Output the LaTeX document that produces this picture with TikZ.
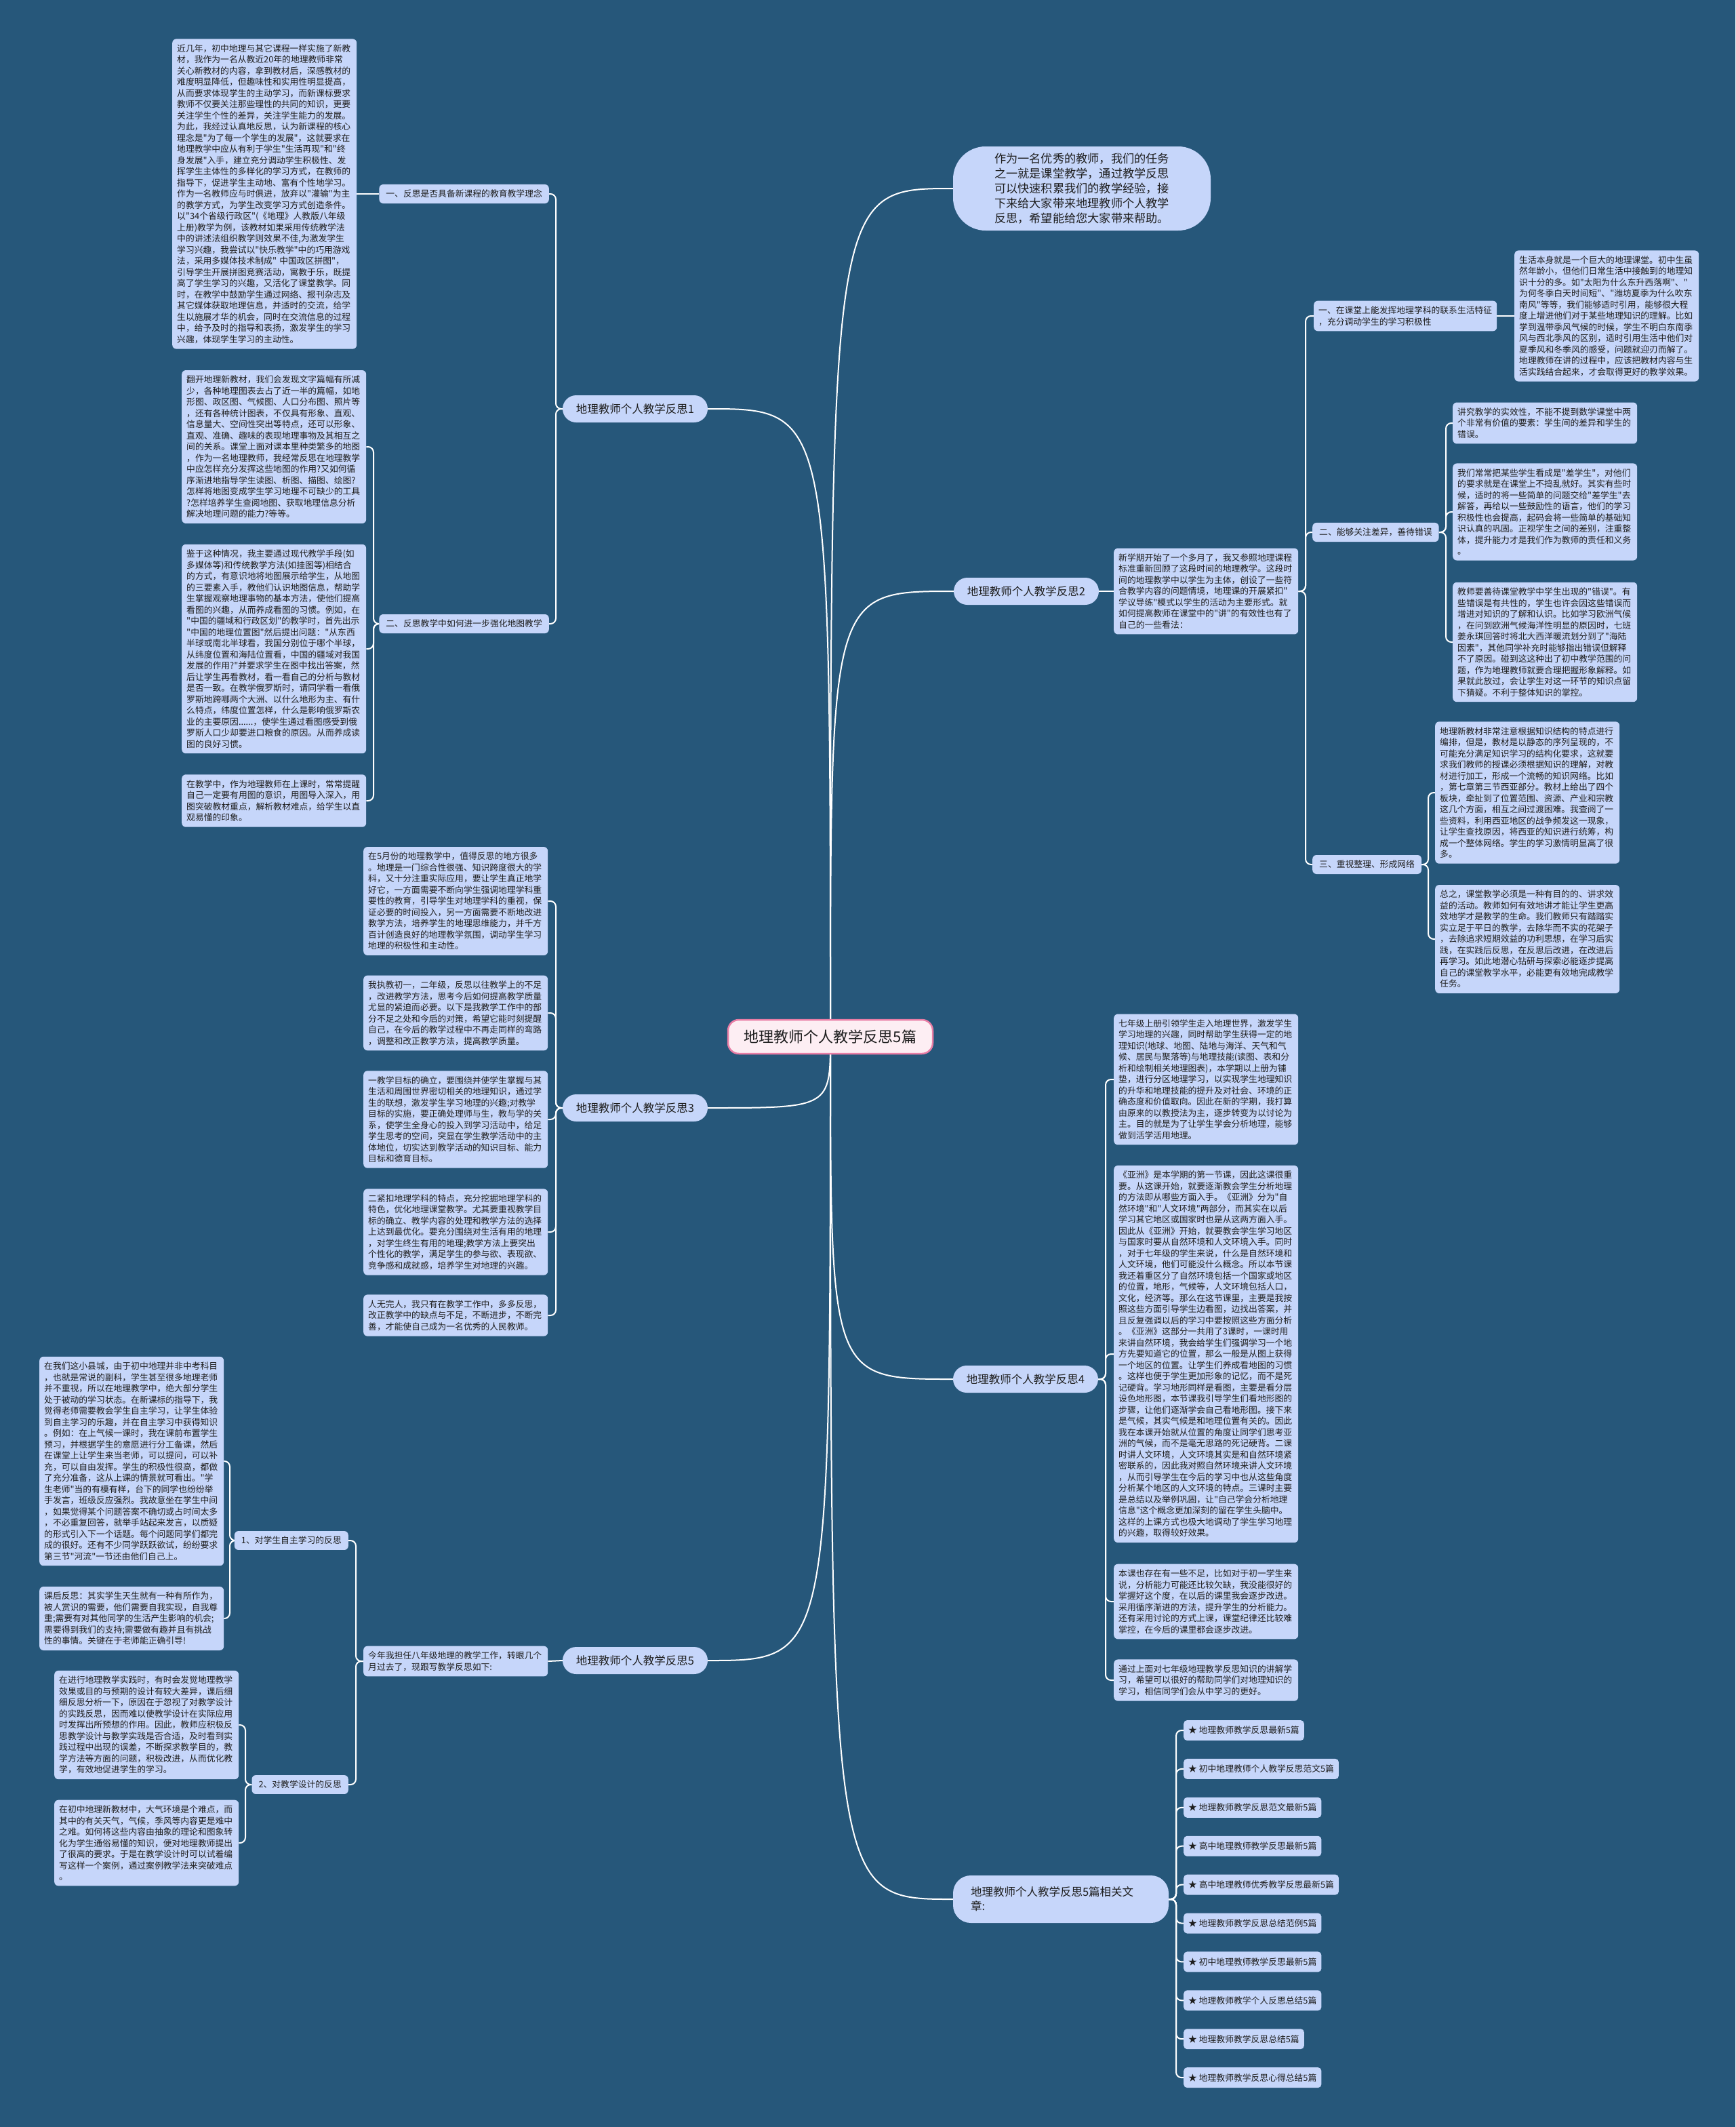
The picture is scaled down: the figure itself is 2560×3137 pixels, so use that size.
\documentclass[tikz,border=0pt]{standalone}
\usepackage{fontspec}
\newfontfamily\cjk{Noto Sans CJK SC}
\definecolor{bgc}{RGB}{38,87,122}
\definecolor{boxc}{RGB}{198,214,250}
\definecolor{txtc}{RGB}{30,30,30}
\definecolor{cfill}{RGB}{253,238,243}
\definecolor{cbord}{RGB}{232,125,165}
\newcommand\blkfont{\cjk\fontsize{12.8pt}{16.5pt}\selectfont}
\newcommand\lonefont{\cjk\fontsize{16.5pt}{21pt}\selectfont}
\newcommand\topfont{\cjk\fontsize{17.2pt}{22pt}\selectfont}
\newcommand\cenfont{\cjk\fontsize{22pt}{26pt}\selectfont}
\pgfdeclarelayer{bgl}
\pgfdeclarelayer{lines}
\pgfsetlayers{bgl,lines,main}
\begin{document}
\begin{tikzpicture}[x=1pt,y=-1pt,
 blk/.style={fill=boxc, rounded corners=6pt, text width=258pt, align=left, inner xsep=7pt, inner ysep=8pt, font=\blkfont, text=txtc, anchor=west},
 lab/.style={fill=boxc, rounded corners=6pt, inner xsep=10pt, inner ysep=8pt, font=\blkfont, text=txtc},
 lone/.style={fill=boxc, rounded corners=20pt, minimum width=214pt, minimum height=40pt, inner sep=4pt, font=\lonefont, text=txtc},
 itm/.style={fill=boxc, rounded corners=5pt, inner xsep=7pt, inner ysep=9pt, font=\blkfont, text=txtc, anchor=west},
 conn/.style={draw=white, line width=2pt, rounded corners=8pt},
 curv/.style={draw=white, line width=2pt},
]
\useasboundingbox (0,0) rectangle (2560,3137);
\begin{pgfonlayer}{bgl}
\fill[bgc] (0,0) rectangle (2560,3137);
\end{pgfonlayer}

% ---------- centre and level 1 ----------
\node[fill=cfill, draw=cbord, line width=2.5pt, rounded corners=16pt, minimum width=302pt, minimum height=50pt, font=\cenfont, text=txtc] (c) at (1225,1529) {地理教师个人教学反思5篇};

\node[fill=boxc, rounded corners=48pt, minimum width=380pt, minimum height=124pt, align=center, font=\topfont, text=txtc] (top) at (1596,278) {作为一名优秀的教师，我们的任务\\之一就是课堂教学，通过教学反思\\可以快速积累我们的教学经验，接\\下来给大家带来地理教师个人教学\\反思，希望能给您大家带来帮助。};

\node[lone] (n1) at (937,603) {地理教师个人教学反思1};
\node[lone] (n2) at (1514,872) {地理教师个人教学反思2};
\node[lone] (n3) at (937,1634) {地理教师个人教学反思3};
\node[lone] (n4) at (1513,2034) {地理教师个人教学反思4};
\node[lone] (n5) at (937,2449) {地理教师个人教学反思5};
\node[lone, minimum width=318pt, minimum height=70pt, text width=266pt, align=left, rounded corners=26pt] (n6) at (1565,2801) {地理教师个人教学反思5篇相关文\\章:};

% ---------- reflection 1 ----------
\node[lab, anchor=east] (l11) at (810,286) {一、反思是否具备新课程的教育教学理念};
\node[lab, anchor=east] (l12) at (810,920) {二、反思教学中如何进一步强化地图教学};

\node[blk] (b1) at (254,286) {近几年，初中地理与其它课程一样实施了新教\\材，我作为一名从教近20年的地理教师非常\\关心新教材的内容，拿到教材后，深感教材的\\难度明显降低，但趣味性和实用性明显提高，\\从而要求体现学生的主动学习，而新课标要求\\教师不仅要关注那些理性的共同的知识，更要\\关注学生个性的差异，关注学生能力的发展。\\为此，我经过认真地反思，认为新课程的核心\\理念是"为了每一个学生的发展"，这就要求在\\地理教学中应从有利于学生"生活再现"和"终\\身发展"入手，建立充分调动学生积极性、发\\挥学生主体性的多样化的学习方式，在教师的\\指导下，促进学生主动地、富有个性地学习。\\作为一名教师应与时俱进，放弃以"灌输"为主\\的教学方式，为学生改变学习方式创造条件。\\以"34个省级行政区"(《地理》人教版八年级\\上册)教学为例，该教材如果采用传统教学法\\中的讲述法组织教学则效果不佳,为激发学生\\学习兴趣，我尝试以"快乐教学"中的巧用游戏\\法，采用多媒体技术制成"~中国政区拼图"，\\引导学生开展拼图竞赛活动，寓教于乐，既提\\高了学生学习的兴趣，又活化了课堂教学。同\\时，在教学中鼓励学生通过网络、报刊杂志及\\其它媒体获取地理信息，并适时的交流，给学\\生以施展才华的机会，同时在交流信息的过程\\中，给予及时的指导和表扬，激发学生的学习\\兴趣，体现学生学习的主动性。};

\node[blk] (b2) at (268,659) {翻开地理新教材，我们会发现文字篇幅有所减\\少，各种地理图表去占了近一半的篇幅，如地\\形图、政区图、气候图、人口分布图、照片等\\，还有各种统计图表，不仅具有形象、直观、\\信息量大、空间性突出等特点，还可以形象、\\直观、准确、趣味的表现地理事物及其相互之\\间的关系。课堂上面对课本里种类繁多的地图\\，作为一名地理教师，我经常反思在地理教学\\中应怎样充分发挥这些地图的作用?又如何循\\序渐进地指导学生读图、析图、描图、绘图?\\怎样将地图变成学生学习地理不可缺少的工具\\?怎样培养学生查阅地图、获取地理信息分析\\解决地理问题的能力?等等。};

\node[blk] (b3) at (268,957) {鉴于这种情况，我主要通过现代教学手段(如\\多媒体等)和传统教学方法(如挂图等)相结合\\的方式，有意识地将地图展示给学生，从地图\\的三要素入手，教他们认识地图信息，帮助学\\生掌握观察地理事物的基本方法，使他们提高\\看图的兴趣，从而养成看图的习惯。例如，在\\"中国的疆域和行政区划"的教学时，首先出示\\"中国的地理位置图"然后提出问题："从东西\\半球或南北半球看，我国分别位于哪个半球，\\从纬度位置和海陆位置看，中国的疆域对我国\\发展的作用?"并要求学生在图中找出答案，然\\后让学生再看教材，看一看自己的分析与教材\\是否一致。在教学俄罗斯时，请同学看一看俄\\罗斯地跨哪两个大洲、以什么地形为主、有什\\么特点，纬度位置怎样，什么是影响俄罗斯农\\业的主要原因......，使学生通过看图感受到俄\\罗斯人口少却要进口粮食的原因。从而养成读\\图的良好习惯。};

\node[blk] (b4) at (268,1181) {在教学中，作为地理教师在上课时，常常提醒\\自己一定要有用图的意识，用图导入深入，用\\图突破教材重点，解析教材难点，给学生以直\\观易懂的印象。};

% ---------- reflection 3 ----------
\node[blk] (c1) at (536,1329) {在5月份的地理教学中，值得反思的地方很多\\。地理是一门综合性很强、知识跨度很大的学\\科，又十分注重实际应用，要让学生真正地学\\好它，一方面需要不断向学生强调地理学科重\\要性的教育，引导学生对地理学科的重视，保\\证必要的时间投入，另一方面需要不断地改进\\教学方法，培养学生的地理思维能力，并千方\\百计创造良好的地理教学氛围，调动学生学习\\地理的积极性和主动性。};

\node[blk] (c2) at (536,1494) {我执教初一，二年级，反思以往教学上的不足\\，改进教学方法，思考今后如何提高教学质量\\尤显的紧迫而必要。以下是我教学工作中的部\\分不足之处和今后的对策，希望它能时刻提醒\\自己，在今后的教学过程中不再走同样的弯路\\，调整和改正教学方法，提高教学质量。};

\node[blk] (c3) at (536,1651) {一教学目标的确立，要围绕并使学生掌握与其\\生活和周围世界密切相关的地理知识，通过学\\生的联想，激发学生学习地理的兴趣;对教学\\目标的实施，要正确处理师与生，教与学的关\\系，使学生全身心的投入到学习活动中，给足\\学生思考的空间，突显在学生教学活动中的主\\体地位，切实达到教学活动的知识目标、能力\\目标和德育目标。};

\node[blk] (c4) at (536,1817) {二紧扣地理学科的特点，充分挖掘地理学科的\\特色，优化地理课堂教学。尤其要重视教学目\\标的确立、教学内容的处理和教学方法的选择\\上达到最优化。要充分围绕对生活有用的地理\\，对学生终生有用的地理;教学方法上要突出\\个性化的教学，满足学生的参与欲、表现欲、\\竞争感和成就感，培养学生对地理的兴趣。};

\node[blk] (c5) at (536,1940) {人无完人，我只有在教学工作中，多多反思，\\改正教学中的缺点与不足，不断进步，不断完\\善，才能使自己成为一名优秀的人民教师。};

% ---------- reflection 5 ----------
\node[blk] (i5) at (536,2450) {今年我担任八年级地理的教学工作，转眼几个\\月过去了，现跟写教学反思如下:};
\node[lab, anchor=east] (l51) at (514,2272) {1、对学生自主学习的反思};
\node[lab, anchor=east] (l52) at (514,2632) {2、对教学设计的反思};

\node[blk] (d1) at (58,2155) {在我们这小县城，由于初中地理并非中考科目\\，也就是常说的副科，学生甚至很多地理老师\\并不重视，所以在地理教学中，绝大部分学生\\处于被动的学习状态。在新课标的指导下，我\\觉得老师需要教会学生自主学习，让学生体验\\到自主学习的乐趣，并在自主学习中获得知识\\。例如：在上气候一课时，我在课前布置学生\\预习，并根据学生的意愿进行分工备课，然后\\在课堂上让学生来当老师，可以提问，可以补\\充，可以自由发挥。学生的积极性很高，都做\\了充分准备，这从上课的情景就可看出。"学\\生老师"当的有模有样，台下的同学也纷纷举\\手发言，班级反应强烈。我故意坐在学生中间\\，如果觉得某个问题答案不确切或占时间太多\\，不必重复回答，就举手站起来发言，以质疑\\的形式引入下一个话题。每个问题同学们都完\\成的很好。还有不少同学跃跃欲试，纷纷要求\\第三节"河流"一节还由他们自己上。};

\node[blk] (d2) at (58,2387) {课后反思：其实学生天生就有一种有所作为，\\被人赏识的需要，他们需要自我实现，自我尊\\重;需要有对其他同学的生活产生影响的机会;\\需要得到我们的支持;需要做有趣并且有挑战\\性的事情。关键在于老师能正确引导!};

\node[blk] (d3) at (80,2544) {在进行地理教学实践时，有时会发觉地理教学\\效果或目的与预期的设计有较大差异，课后细\\细反思分析一下，原因在于忽视了对教学设计\\的实践反思，因而难以使教学设计在实际应用\\时发挥出所预想的作用。因此，教师应积极反\\思教学设计与教学实践是否合适，及时看到实\\践过程中出现的误差，不断探求教学目的，教\\学方法等方面的问题，积极改进，从而优化教\\学，有效地促进学生的学习。};

\node[blk] (d4) at (80,2718) {在初中地理新教材中，大气环境是个难点，而\\其中的有关天气，气候，季风等内容更是难中\\之难。如何将这些内容由抽象的理论和图象转\\化为学生通俗易懂的知识，便对地理教师提出\\了很高的要求。于是在教学设计时可以试着编\\写这样一个案例，通过案例教学法来突破难点\\。};

% ---------- reflection 2 ----------
\node[blk] (i2) at (1643,872) {新学期开始了一个多月了，我又参照地理课程\\标准重新回顾了这段时间的地理教学。这段时\\间的地理教学中以学生为主体，创设了一些符\\合教学内容的问题情境，地理课的开展紧扣"\\学议导练"模式以学生的活动为主要形式。就\\如何提高教师在课堂中的"讲"的有效性也有了\\自己的一些看法：};

\node[lab, anchor=west, text width=256pt, align=left, inner xsep=7pt] (r1) at (1938,466) {一、在课堂上能发挥地理学科的联系生活特征\\，充分调动学生的学习积极性};
\node[lab, anchor=west] (r2) at (1936,785) {二、能够关注差异，善待错误};
\node[lab, anchor=west] (r3) at (1936,1275) {三、重视整理、形成网络};

\node[blk] (q1) at (2234,466) {生活本身就是一个巨大的地理课堂。初中生虽\\然年龄小，但他们日常生活中接触到的地理知\\识十分的多。如"太阳为什么东升西落啊"、"\\为何冬季白天时间短"、"潍坊夏季为什么吹东\\南风"等等，我们能够适时引用，能够很大程\\度上增进他们对于某些地理知识的理解。比如\\学到温带季风气候的时候，学生不明白东南季\\风与西北季风的区别，适时引用生活中他们对\\夏季风和冬季风的感受，问题就迎刃而解了。\\地理教师在讲的过程中，应该把教材内容与生\\活实践结合起来，才会取得更好的教学效果。};

\node[blk] (q2) at (2143,624) {讲究教学的实效性，不能不提到数学课堂中两\\个非常有价值的要素：学生间的差异和学生的\\错误。};

\node[blk] (q3) at (2143,755) {我们常常把某些学生看成是"差学生"，对他们\\的要求就是在课堂上不捣乱就好。其实有些时\\候，适时的将一些简单的问题交给"差学生"去\\解答，再给以一些鼓励性的语言，他们的学习\\积极性也会提高，起码会将一些简单的基础知\\识认真的巩固。正视学生之间的差别，注重整\\体，提升能力才是我们作为教师的责任和义务\\。};

\node[blk] (q4) at (2143,947) {教师要善待课堂教学中学生出现的"错误"。有\\些错误是有共性的，学生也许会因这些错误而\\增进对知识的了解和认识。比如学习欧洲气候\\，在问到欧洲气候海洋性明显的原因时，七班\\姜永琪回答时将北大西洋暖流划分到了"海陆\\因素"，其他同学补充时能够指出错误但解释\\不了原因。碰到这这种出了初中教学范围的问\\题，作为地理教师就要合理把握形象解释。如\\果就此放过，会让学生对这一环节的知识点留\\下猜疑。不利于整体知识的掌控。};

\node[blk] (q5) at (2117,1169) {地理新教材非常注意根据知识结构的特点进行\\编排，但是，教材是以静态的序列呈现的，不\\可能充分满足知识学习的结构化要求，这就要\\求我们教师的授课必须根据知识的理解，对教\\材进行加工，形成一个流畅的知识网络。比如\\，第七章第三节西亚部分。教材上给出了四个\\板块，牵扯到了位置范围、资源、产业和宗教\\这几个方面，相互之间过渡困难。我查阅了一\\些资料，利用西亚地区的战争频发这一现象，\\让学生查找原因，将西亚的知识进行统筹，构\\成一个整体网络。学生的学习激情明显高了很\\多。};

\node[blk] (q6) at (2117,1385) {总之，课堂教学必须是一种有目的的、讲求效\\益的活动。教师如何有效地讲才能让学生更高\\效地学才是教学的生命。我们教师只有踏踏实\\实立足于平日的教学，去除华而不实的花架子\\，去除追求短期效益的功利思想，在学习后实\\践，在实践后反思，在反思后改进，在改进后\\再学习。如此地潜心钻研与探索必能逐步提高\\自己的课堂教学水平，必能更有效地完成教学\\任务。};

% ---------- reflection 4 ----------
\node[blk] (e1) at (1643,1592) {七年级上册引领学生走入地理世界，激发学生\\学习地理的兴趣，同时帮助学生获得一定的地\\理知识(地球、地图、陆地与海洋、天气和气\\候、居民与聚落等)与地理技能(读图、表和分\\析和绘制相关地理图表)，本学期以上册为铺\\垫，进行分区地理学习，以实现学生地理知识\\的升华和地理技能的提升及对社会、环境的正\\确态度和价值取向。因此在新的学期，我打算\\由原来的以教授法为主，逐步转变为以讨论为\\主。目的就是为了让学生学会分析地理，能够\\做到活学活用地理。};

\node[blk] (e2) at (1643,1997) {《亚洲》是本学期的第一节课，因此这课很重\\要。从这课开始，就要逐渐教会学生分析地理\\的方法即从哪些方面入手。《亚洲》分为"自\\然环境"和"人文环境"两部分，而其实在以后\\学习其它地区或国家时也是从这两方面入手。\\因此从《亚洲》开始，就要教会学生学习地区\\与国家时要从自然环境和人文环境入手。同时\\，对于七年级的学生来说，什么是自然环境和\\人文环境，他们可能没什么概念。所以本节课\\我还着重区分了自然环境包括一个国家或地区\\的位置，地形，气候等，人文环境包括人口，\\文化，经济等。那么在这节课里，主要是我按\\照这些方面引导学生边看图，边找出答案，并\\且反复强调以后的学习中要按照这些方面分析\\。《亚洲》这部分一共用了3课时，一课时用\\来讲自然环境，我会给学生们强调学习一个地\\方先要知道它的位置，那么一般是从图上获得\\一个地区的位置。让学生们养成看地图的习惯\\。这样也便于学生更加形象的记忆，而不是死\\记硬背。学习地形同样是看图，主要是看分层\\设色地形图，本节课我引导学生们看地形图的\\步骤，让他们逐渐学会自己看地形图。接下来\\是气候，其实气候是和地理位置有关的。因此\\我在本课开始就从位置的角度让同学们思考亚\\洲的气候，而不是毫无思路的死记硬背。二课\\时讲人文环境，人文环境其实是和自然环境紧\\密联系的，因此我对照自然环境来讲人文环境\\，从而引导学生在今后的学习中也从这些角度\\分析某个地区的人文环境的特点。三课时主要\\是总结以及举例巩固，让"自己学会分析地理\\信息"这个概念更加深刻的留在学生头脑中。\\这样的上课方式也极大地调动了学生学习地理\\的兴趣，取得较好效果。};

\node[blk] (e3) at (1643,2362) {本课也存在有一些不足，比如对于初一学生来\\说，分析能力可能还比较欠缺，我没能很好的\\掌握好这个度，在以后的课里我会逐步改进。\\采用循序渐进的方法，提升学生的分析能力。\\还有采用讨论的方式上课，课堂纪律还比较难\\掌控，在今后的课里都会逐步改进。};

\node[blk] (e4) at (1643,2478) {通过上面对七年级地理教学反思知识的讲解学\\习，希望可以很好的帮助同学们对地理知识的\\学习，相信同学们会从中学习的更好。};

% ---------- related list ----------
\foreach \t [count=\i] in {地理教师教学反思最新5篇, 初中地理教师个人教学反思范文5篇, 地理教师教学反思范文最新5篇, 高中地理教师教学反思最新5篇, 高中地理教师优秀教学反思最新5篇, 地理教师教学反思总结范例5篇, 初中地理教师教学反思最新5篇, 地理教师教学个人反思总结5篇, 地理教师教学反思总结5篇, 地理教师教学反思心得总结5篇}{
  \node[itm] (it\i) at (1746,{2552+56.9*(\i-1)}) {★ \t};
}

% ---------- connectors ----------
\begin{pgfonlayer}{lines}
\draw[curv] (c.center) .. controls (1225,278) .. (top.west);
\draw[curv] (c.center) .. controls (1225,603) .. (n1.east);
\draw[curv] (c.center) .. controls (1225,872) .. (n2.west);
\draw[curv] (c.center) .. controls (1225,1634) .. (n3.east);
\draw[curv] (c.center) .. controls (1225,2034) .. (n4.west);
\draw[curv] (c.center) .. controls (1225,2449) .. (n5.east);
\draw[curv] (c.center) .. controls (1225,2801) .. (n6.west);

% reflection 1
\draw[conn] (n1.west) -- (820,603) |- (l11.east);
\draw[conn] (n1.west) -- (820,603) |- (l12.east);
\draw[conn] (l11.west) -- (b1.east);
\draw[conn] (l12.west) -- (551,920) |- (b2.east);
\draw[conn] (l12.west) -- (551,920) |- (b3.east);
\draw[conn] (l12.west) -- (551,920) |- (b4.east);
% reflection 3
\foreach \k in {c1,c2,c3,c4,c5}{\draw[conn] (n3.west) -- (820,1634) |- (\k.east);}
% reflection 5
\draw[conn] (n5.west) -- (i5.east);
\draw[conn] (i5.west) -- (525,2450) |- (l51.east);
\draw[conn] (i5.west) -- (525,2450) |- (l52.east);
\draw[conn] (l51.west) -- (339,2272) |- (d1.east);
\draw[conn] (l51.west) -- (339,2272) |- (d2.east);
\draw[conn] (l52.west) -- (362,2632) |- (d3.east);
\draw[conn] (l52.west) -- (362,2632) |- (d4.east);
% reflection 2
\draw[conn] (n2.east) -- (i2.west);
\foreach \k in {r1,r2,r3}{\draw[conn] (i2.east) -- (1926,872) |- (\k.west);}
\draw[conn] (r1.east) -- (q1.west);
\foreach \k in {q2,q3,q4}{\draw[conn] (r2.east) -- (2133,785) |- (\k.west);}
\foreach \k in {q5,q6}{\draw[conn] (r3.east) -- (2107,1275) |- (\k.west);}
% reflection 4
\foreach \k in {e1,e2,e3,e4}{\draw[conn] (n4.east) -- (1631,2034) |- (\k.west);}
% related list
\foreach \i in {1,...,10}{\draw[conn] (n6.east) -- (1735,2801) |- (it\i.west);}
\end{pgfonlayer}
\end{tikzpicture}
\end{document}
